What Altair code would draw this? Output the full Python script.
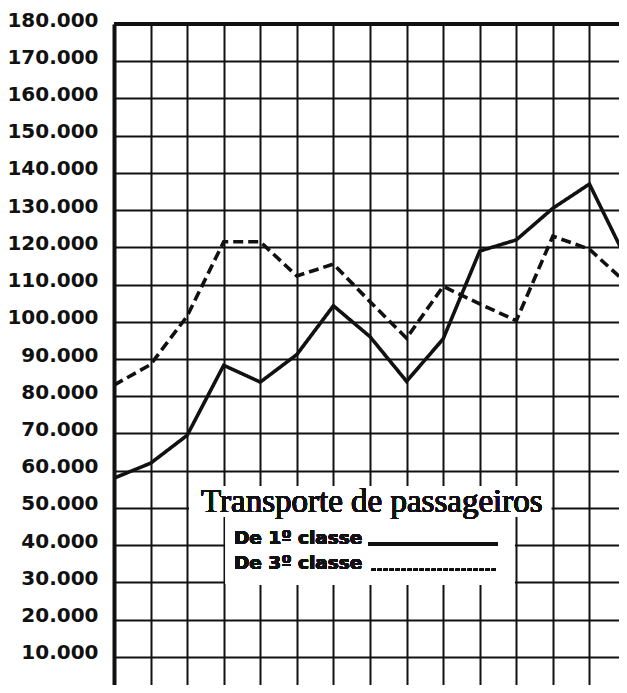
import altair as alt
import pandas as pd

# --- data ---
periods = list(range(15))
first_class = [58000, 62000, 69500, 88300, 83800, 91200, 104300, 96000, 84000,
               95400, 119000, 122000, 130500, 137000, 117000]
third_class = [83000, 88500, 101500, 121500, 121500, 112300, 115500, 105400, 95600,
               109500, 104800, 100300, 123000, 119500, 110500]
series_names = ["De 1º classe", "De 3º classe"]
y_ticks = list(range(10000, 180001, 10000))
title_text = "Transporte de passageiros"

df = pd.DataFrame({
    "periodo": periods * 2,
    "passageiros": first_class + third_class,
    "classe": [series_names[0]] * len(periods) + [series_names[1]] * len(periods),
})

xs = alt.Scale(domain=[0, 14], nice=False, zero=False)
ys = alt.Scale(domain=[0, 180000], nice=False, zero=False)

x_axis = alt.Axis(values=periods, grid=True, labels=False, ticks=False, domain=False,
                  title=None, gridColor="#111111", gridWidth=2, gridOpacity=1)
y_axis = alt.Axis(values=y_ticks, grid=True, ticks=False, domain=True, domainColor="#111111",
                  domainWidth=4, title=None, gridColor="#111111", gridWidth=2, gridOpacity=1,
                  labelExpr="replace(format(datum.value, ','), ',', '.')",
                  labelFont="DejaVu Sans", labelFontWeight="bold", labelFontSize=20,
                  labelOverlap=False, labelColor="#111111", labelPadding=16, labelOffset=-4)


def X(v):
    return alt.XDatum(v, axis=x_axis, scale=xs, type="quantitative")


def Y(v):
    return alt.YDatum(v, axis=y_axis, scale=ys, type="quantitative")


lines = alt.Chart(df).mark_line(color="#111111", strokeWidth=3.6, clip=True).encode(
    x=alt.X("periodo:Q", scale=xs, axis=x_axis),
    y=alt.Y("passageiros:Q", scale=ys, axis=y_axis),
    strokeDash=alt.StrokeDash("classe:N",
                              scale=alt.Scale(domain=series_names, range=[[1, 0], [10, 5]]),
                              legend=None),
)

top_border = alt.Chart(df).mark_rule(color="#111111", strokeWidth=4).encode(
    x=X(0), x2=alt.X2Datum(14), y=Y(180000))

box_title = alt.Chart(df).mark_rect(color="white").encode(
    x=X(2.06), x2=alt.X2Datum(11.95), y=Y(55900), y2=alt.Y2Datum(47600))
box_legend = alt.Chart(df).mark_rect(color="white").encode(
    x=X(3.06), x2=alt.X2Datum(10.94), y=Y(47700), y2=alt.Y2Datum(29500))

title = alt.Chart(df).mark_text(font="Liberation Serif", fontSize=33, color="#111111",
                                align="center", baseline="alphabetic").encode(
    x=X(7.05), y=Y(48900), text=alt.value(title_text))

leg1 = alt.Chart(df).mark_text(font="DejaVu Sans", fontWeight="bold", fontSize=18.5,
                               color="#111111", align="left", baseline="alphabetic").encode(
    x=X(3.28), y=Y(40400), text=alt.value(series_names[0]))
leg2 = alt.Chart(df).mark_text(font="DejaVu Sans", fontWeight="bold", fontSize=18.5,
                               color="#111111", align="left", baseline="alphabetic").encode(
    x=X(3.28), y=Y(33600), text=alt.value(series_names[1]))

leg_line1 = alt.Chart(df).mark_rule(color="#111111", strokeWidth=3).encode(
    x=X(6.95), x2=alt.X2Datum(10.5), y=Y(40300))
leg_line2 = alt.Chart(df).mark_rule(color="#111111", strokeWidth=2, strokeDash=[4, 2]).encode(
    x=X(7.05), x2=alt.X2Datum(10.45), y=Y(33400))

chart = alt.layer(
    lines, box_title, box_legend, top_border, title, leg1, leg2, leg_line1, leg_line2
).properties(
    width=512, height=670,
    autosize=alt.AutoSizeParams(type="none"),
    padding={"left": 106, "top": 16, "right": -7, "bottom": -9},
    background="white",
).configure_view(stroke=None)

chart.save("out.html", embed_options={"renderer": "svg", "actions": False})
